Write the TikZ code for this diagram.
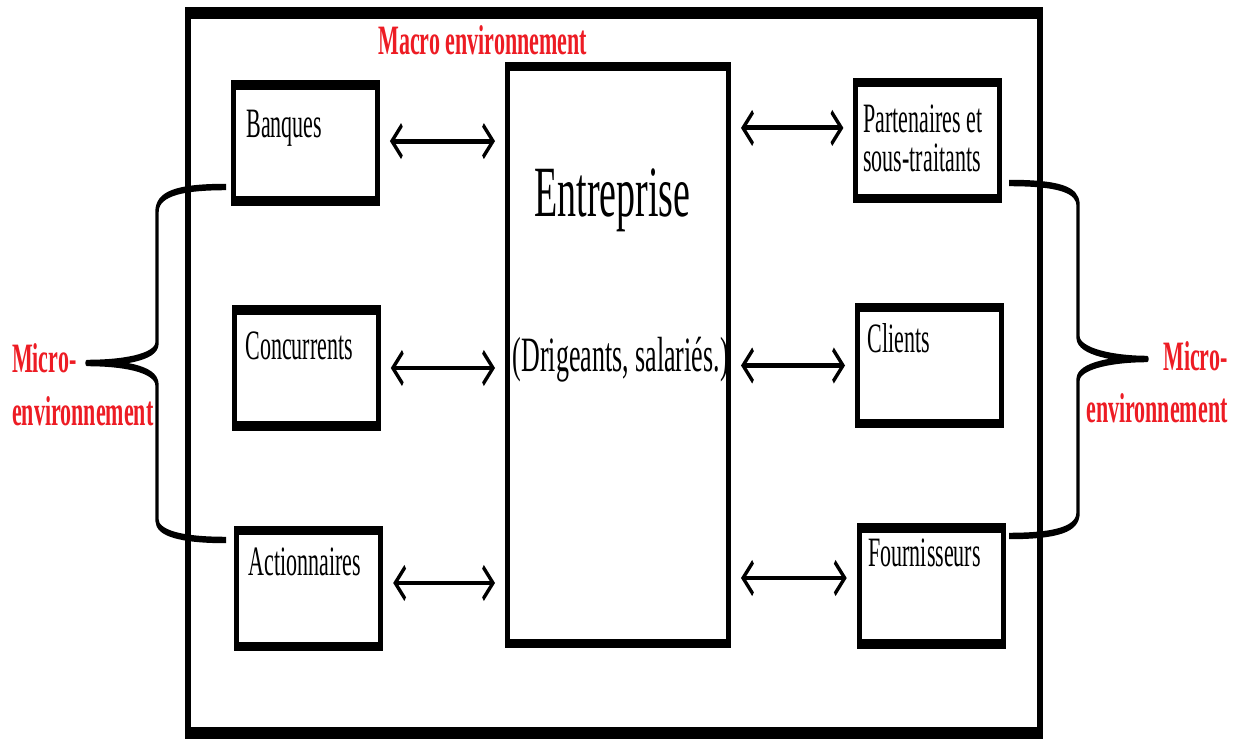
\documentclass[tikz,border=0pt]{standalone}
\usepackage{fontspec}
\setmainfont{Liberation Serif}
\usetikzlibrary{arrows.meta}
\definecolor{envred}{RGB}{237,28,36}
\tikzstyle{acteur} = [rectangle, draw=black, line width=2.5pt, minimum width=72pt, minimum height=30.5pt, inner sep=0pt]
\tikzstyle{nom} = [anchor=base west, inner sep=0pt, font=\fontsize{11}{10.3}\selectfont, align=left]
\tikzstyle{lien} = [<->, >={Straight Barb[length=5pt,width=8.5pt]}, line width=1.3pt, shorten <=5pt, shorten >=5pt]
\tikzstyle{accolade} = [line width=1.7pt, line join=round]
\tikzstyle{env} = [inner sep=0pt, text=envred, font=\fontsize{11}{13.7}\selectfont\bfseries]

\begin{document}
\begin{tikzpicture}[x=0.5pt, y=-0.5pt]%
\useasboundingbox (0,0) rectangle (1234,738);%
\begin{scope}[transform canvas={yscale=1.9}, y=-0.263158pt]%
	\draw[line width=3pt] (188,13) rectangle (1040,733);%
	\node[acteur, minimum width=110.5pt, minimum height=151.8pt] (ent) at (618,354.85) {};%
	\node[acteur] (bq) at (305.4,143) {};%
	\node[acteur] (cc) at (306.3,368) {};%
	\node[acteur] (ac) at (308.7,588.3) {};%
	\node[acteur] (pt) at (927.9,140.5) {};%
	\node[acteur] (cl) at (929.5,365.5) {};%
	\node[acteur] (fr) at (931.2,586) {};%
	\node[nom] (bq-t) at (246,138) {Banques};%
	\node[nom] (cc-t) at (245,360) {Concurrents};%
	\node[nom] (ac-t) at (248,575) {Actionnaires};%
	\node[nom] (pt-t) at (863,172) {Partenaires et\\sous-traitants};%
	\node[nom] (cl-t) at (867.4,353) {Clients};%
	\node[nom] (fr-t) at (868,566.7) {Fournisseurs};%
	\node[anchor=base, inner sep=0pt, font=\fontsize{19}{19}\selectfont] (ent-t) at (612.5,216.7) {Entreprise};%
	\node[anchor=base, inner sep=0pt, font=\fontsize{13}{13}\selectfont] (ent-s) at (620.7,372) {(Drigeants, salariés.)};%
	\draw[lien] ([yshift=0.5pt]bq.east) -- ([yshift=0.5pt]ent.west |- bq.east);%
	\draw[lien] (cc.east) -- (ent.west |- cc.east);%
	\draw[lien] ([yshift=1.4pt]ac.east) -- ([yshift=1.4pt]ent.west |- ac.east);%
	\draw[lien] ([yshift=3.3pt]ent.east |- pt.west) -- ([yshift=3.3pt]pt.west);%
	\draw[lien] (ent.east |- cl.west) -- (cl.west);%
	\draw[lien] ([yshift=2.1pt]ent.east |- fr.west) -- ([yshift=2.1pt]fr.west);%
	\node[env, anchor=base west] (macro) at (378,55) {Macro environnement};%
	\node[env, anchor=base west, align=left] (micro-g) at (11.7,425) {Micro-\\environnement};%
	\node[env, anchor=base east, align=right] (micro-d) at (1228,423) {Micro-\\environnement};%
	\draw[accolade] (226,187) .. controls (175,187) and (157,195) .. (157,212) -- (157,343)%
		.. controls (157,358) and (120,363) .. (87,363)%
		.. controls (120,363) and (157,368) .. (157,385) -- (157,520)%
		.. controls (157,533) and (180,540) .. (226,540);%
	\draw[accolade] (1009,183) .. controls (1060,183) and (1078,190) .. (1078,205) -- (1078,337)%
		.. controls (1078,352) and (1115,359) .. (1147,359)%
		.. controls (1115,359) and (1078,365) .. (1078,380) -- (1078,513)%
		.. controls (1078,528) and (1060,536) .. (1009,536);%
\end{scope}%
\end{tikzpicture}
\end{document}
